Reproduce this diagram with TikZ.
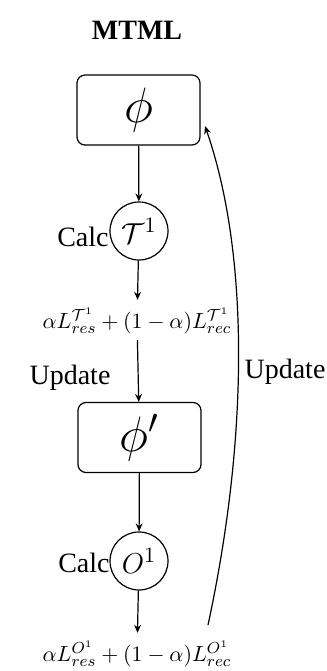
\documentclass[tikz,border=0pt]{standalone}
\usepackage{amsmath,amssymb}
\usepackage{fontspec}
\setmainfont{Liberation Serif}
\usetikzlibrary{positioning,arrows.meta}
\tikzset{
  flow/.style={-{Stealth[length=1.4mm,width=1.2mm]},line width=0.6pt},
  pbox/.style={draw,rounded corners=4pt,minimum width=61.5pt,minimum height=35pt,
    line width=0.6pt,font=\fontsize{24}{28}\selectfont},
  calcc/.style={draw,circle,minimum size=29pt,inner sep=0pt,line width=0.6pt,
    font=\fontsize{15}{18}\selectfont},
  lossn/.style={inner sep=1pt,font=\fontsize{11}{13}\selectfont},
  txt/.style={font=\fontsize{14}{16}\selectfont,inner sep=0pt},
}
\begin{document}
\begin{tikzpicture}[x=0.5pt,y=-0.5pt]
  \useasboundingbox (0,0) rectangle (327,671);
  \node[txt,font=\fontsize{14}{16}\selectfont\bfseries] (title) at (137,30) {MTML};
  % task T
  \node[pbox] (phi) at (138.5,110) {$\phi$};
  \node[calcc] (calcT) at (139,231) {$\mathcal{T}^1$};
  \node[txt,anchor=east] (calcTl) at (109,237) {Calc};
  \node[lossn] (lossT) at (137,321) {$\alpha L_{res}^{\mathcal{T}^1}+(1-\alpha)L_{rec}^{\mathcal{T}^1}$};
  \node[txt] (updL) at (70,378) {Update};
  % task O
  \node[pbox] (phiP) at (139.5,437.5) {$\phi'$};
  \node[calcc] (calcO) at (139,561) {$O^1$};
  \node[txt,anchor=east] (calcOl) at (110,563) {Calc};
  \node[lossn] (lossO) at (137,654) {$\alpha L_{res}^{O^1}+(1-\alpha)L_{rec}^{O^1}$};
  \node[txt] (updR) at (285,372) {Update};
  \coordinate (upS) at (208,625);
  \coordinate (upE) at (205,126);
  \draw[flow] (phi) -- (calcT);
  \draw[flow,shorten >=3pt] (calcT) -- (lossT);
  \draw[flow,shorten <=2pt] (lossT) -- (phiP);
  \draw[flow] (phiP) -- (calcO);
  \draw[flow,shorten >=3pt] (calcO) -- (lossO);
  \draw[flow] (upS) .. controls (250,430) and (248,250) .. (upE);
\end{tikzpicture}
\end{document}
